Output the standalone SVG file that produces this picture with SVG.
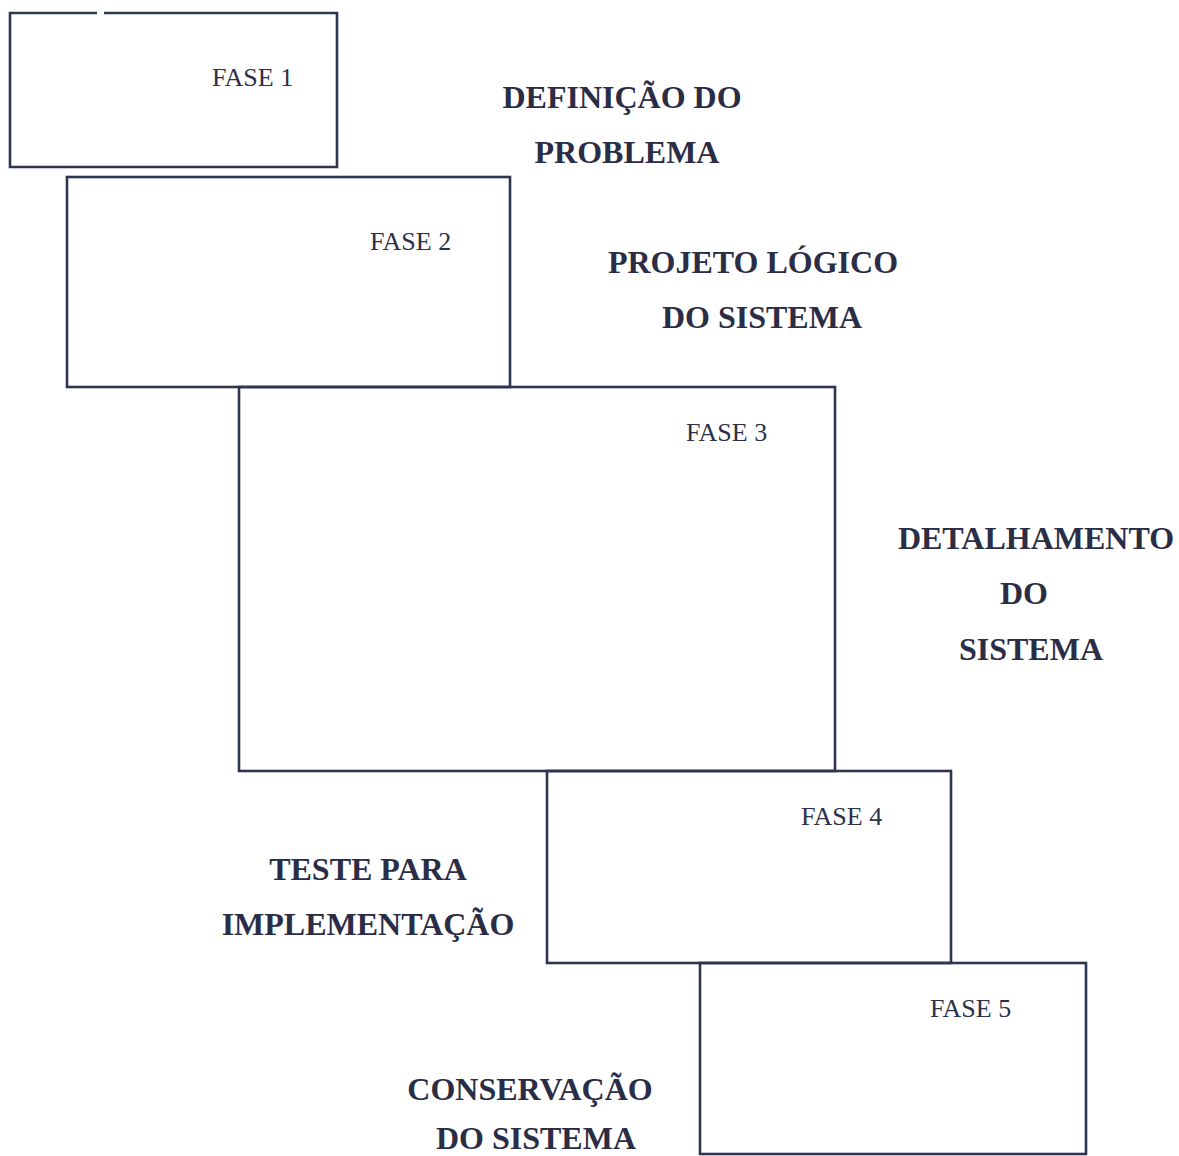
<svg xmlns="http://www.w3.org/2000/svg" width="1179" height="1156" viewBox="0 0 1179 1156">
<style>
.box{fill:none;stroke:#2f3450;stroke-width:2.6}
.fase{font-family:"Liberation Serif","Times New Roman",serif;font-size:26px;fill:#2c3048}
.lbl{font-family:"Liberation Serif","Times New Roman",serif;font-size:32px;font-weight:bold;fill:#2a2d45;text-anchor:middle}
</style>
<rect width="1179" height="1156" fill="#ffffff"/>
<g id="fase1">
<path class="box" d="M97,13 H10 V167 H337 V13 H104"/>
<text class="fase" x="212" y="86">FASE 1</text>
</g>
<g id="fase2">
<rect class="box" x="67" y="177" width="443" height="210"/>
<text class="fase" x="370" y="250">FASE 2</text>
</g>
<g id="fase3">
<rect class="box" x="239" y="387" width="596" height="384"/>
<text class="fase" x="686" y="441">FASE 3</text>
</g>
<g id="fase4">
<rect class="box" x="547" y="771" width="404" height="192"/>
<text class="fase" x="801" y="825">FASE 4</text>
</g>
<g id="fase5">
<rect class="box" x="700" y="963" width="386" height="191"/>
<text class="fase" x="930" y="1017">FASE 5</text>
</g>
<g id="labels">
<text class="lbl" x="622" y="108">DEFINIÇÃO DO</text>
<text class="lbl" x="627" y="163">PROBLEMA</text>
<text class="lbl" x="753" y="273">PROJETO LÓGICO</text>
<text class="lbl" x="762" y="328">DO SISTEMA</text>
<text class="lbl" x="1036" y="549">DETALHAMENTO</text>
<text class="lbl" x="1024" y="604">DO</text>
<text class="lbl" x="1031" y="660">SISTEMA</text>
<text class="lbl" x="368" y="880">TESTE PARA</text>
<text class="lbl" x="368" y="935">IMPLEMENTAÇÃO</text>
<text class="lbl" x="530" y="1100">CONSERVAÇÃO</text>
<text class="lbl" x="536" y="1149">DO SISTEMA</text>
</g>
<g id="connectors"></g>
</svg>
